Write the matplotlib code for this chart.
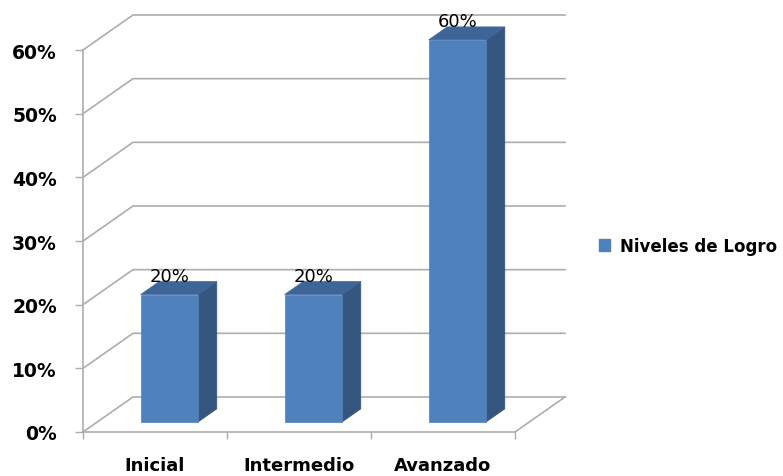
import matplotlib
matplotlib.use("Agg")
import matplotlib.pyplot as plt
from matplotlib.patches import Polygon, Patch

categories = ["Inicial", "Intermedio", "Avanzado"]
values = [0.20, 0.20, 0.60]
series_name = "Niveles de Logro"
y_ticks = [0.0, 0.1, 0.2, 0.3, 0.4, 0.5, 0.6]

# fake 3d: how far the back wall is shifted (x in category units, y in value units)
DX = 0.347
DY = 0.055
F0, F1 = 0.29, 0.66   # bar depth range as fraction of floor depth
BAR_W = 0.40

FRONT = "#4F81BD"
SIDE = "#34567F"
TOP = "#3E6598"
GRID = "#ADADAD"


def proj(x, y, f):
    return (x + f * DX, y + f * DY)


fig = plt.figure(figsize=(7.83, 4.77), dpi=100)
ax = fig.add_axes([83 / 783, 44 / 477, 482 / 783, 417 / 477])
ymax = y_ticks[-1]
n = len(categories)
ax.set_xlim(0, n + DX)
ax.set_ylim(0, ymax + DY)

# walls: diagonal on the side wall, then across the back wall
for v in y_ticks:
    ax.plot([0, DX, n + DX], [v, v + DY, v + DY], color=GRID, lw=1.2,
            clip_on=False, zorder=1)
# right edge of the floor
ax.plot([n, n + DX], [0, DY], color=GRID, lw=1.2, clip_on=False, zorder=1)

for i, v in enumerate(values):
    c = i + 0.5
    x0, x1 = c - BAR_W / 2, c + BAR_W / 2
    front = [proj(x0, 0, F0), proj(x1, 0, F0), proj(x1, v, F0), proj(x0, v, F0)]
    side = [proj(x1, 0, F0), proj(x1, 0, F1), proj(x1, v, F1), proj(x1, v, F0)]
    top = [proj(x0, v, F0), proj(x1, v, F0), proj(x1, v, F1), proj(x0, v, F1)]
    for pts, col in ((side, SIDE), (top, TOP), (front, FRONT)):
        ax.add_patch(Polygon(pts, closed=True, facecolor=col, edgecolor=col,
                             lw=0.5, zorder=3, clip_on=False))
    ax.annotate(f"{v:.0%}", xy=proj(c, v, F0), xytext=(0, 9.7),
                textcoords="offset points", ha="center", va="baseline",
                fontsize=13, color="black", zorder=5)

for s in ("top", "right"):
    ax.spines[s].set_visible(False)
ax.spines["left"].set_bounds(0, ymax)
ax.spines["bottom"].set_bounds(0, n)
for s in ("left", "bottom"):
    ax.spines[s].set_color(GRID)
    ax.spines[s].set_linewidth(1.2)

ax.set_yticks(y_ticks)
ax.set_yticklabels([f"{t:.0%}" for t in y_ticks], fontsize=13.5,
                   fontweight="bold")
ax.tick_params(axis="y", length=5.8, width=1, color=GRID, pad=13)

ax.set_xticks(range(n + 1))
ax.set_xticklabels([])
ax.set_xticks([i + 0.5 for i in range(n)], minor=True)
ax.set_xticklabels(categories, minor=True, fontsize=13, fontweight="bold")
ax.tick_params(axis="x", which="major", length=5, width=1, color=GRID)
ax.tick_params(axis="x", which="minor", length=0, pad=17)

fig.legend(handles=[Patch(facecolor=FRONT, edgecolor=FRONT, label=series_name)],
           loc="center left", bbox_to_anchor=(592 / 783, 1 - 247 / 477),
           frameon=False, handlelength=0.7, handleheight=0.7,
           handletextpad=0.6, borderaxespad=0,
           prop={"size": 12, "weight": "bold"})

fig.savefig("out.png", dpi=100)
